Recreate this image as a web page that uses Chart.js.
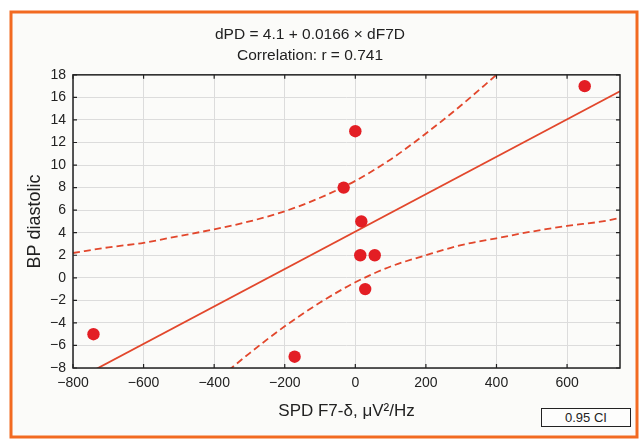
<!DOCTYPE html>
<html>
<head>
<meta charset="utf-8">
<script src="https://cdn.jsdelivr.net/npm/chart.js@4.4.1/dist/chart.umd.min.js"></script>
<style>
  html, body { margin: 0; padding: 0; background: #ffffff; }
  #wrap { position: relative; width: 642px; height: 444px; }
  #c { position: absolute; left: 0; top: 0; }
  #ci { position: absolute; left: 541px; top: 408px; width: 88px; height: 17px;
        border: 1.5px solid #222; background: #fdfdfc;
        font: 13px "Liberation Sans", Arial, sans-serif;
        color: #222; text-align: center; line-height: 17px; }
</style>
</head>
<body>
<div id="wrap">
  <canvas id="c" width="642" height="444"></canvas>
  <div id="ci">0.95 CI</div>
</div>
<script>
// ---- data ----
const pointsX = [-742, -172, 0, -33, 17, 14, 55, 28, 650];
const pointsY = [-5, -7, 13, 8, 5, 2, 2, -1, 17];

const fitX = [-800, 750];
const fitY = [-9.18, 16.55];

const upperX = [-800, -700, -600, -500, -400, -300, -200, -100, 0, 100, 200, 300, 400, 500];
const upperY = [2.2, 2.7, 3.1, 3.7, 4.3, 5.0, 5.9, 7.1, 8.6, 10.5, 12.8, 15.3, 18.0, 20.7];

const lowerX = [-500, -400, -300, -200, -100, 0, 100, 200, 300, 400, 500, 600, 700, 750];
const lowerY = [-12.1, -9.3, -6.7, -4.3, -2.2, -0.4, 1.0, 2.0, 2.9, 3.5, 4.1, 4.6, 5.0, 5.3];

const xTicks = [-800, -600, -400, -200, 0, 200, 400, 600];
const yTicks = [-8, -6, -4, -2, 0, 2, 4, 6, 8, 10, 12, 14, 16, 18];

const titleLines = ['dPD = 4.1 + 0.0166 \u00d7 dF7D', 'Correlation: r = 0.741'];
const xTitle = 'SPD F7-\u03b4, \u03bcV\u00b2/Hz';
const yTitle = 'BP diastolic';

const zip = (xs, ys) => xs.map((x, i) => ({ x: x, y: ys[i] }));
const fmt = v => String(v).replace('-', '\u2212');

const FONT = '"Liberation Sans", Arial, sans-serif';
const RED = '#e31e24';
const LINE = '#e2472c';

const framePlugin = {
  id: 'frame',
  beforeDraw(chart) {
    const ctx = chart.ctx;
    ctx.save();
    ctx.fillStyle = '#ffffff';
    ctx.fillRect(0, 0, chart.width, chart.height);
    ctx.fillStyle = '#fbfbf9';
    ctx.fillRect(11, 12, 626, 425);
    ctx.strokeStyle = '#f26a21';
    ctx.lineWidth = 3;
    ctx.strokeRect(11, 12, 626, 425);
    ctx.restore();
  },
  afterDraw(chart) {
    const ctx = chart.ctx;
    const a = chart.chartArea;
    const xs = chart.scales.x, ys = chart.scales.y;
    ctx.save();
    ctx.strokeStyle = '#222';
    ctx.lineWidth = 1.5;
    ctx.strokeRect(a.left, a.top, a.right - a.left, a.bottom - a.top);
    ctx.lineWidth = 1.2;
    ctx.beginPath();
    xTicks.forEach(v => {
      const px = xs.getPixelForValue(v);
      ctx.moveTo(px, a.top); ctx.lineTo(px, a.top + 4);
      ctx.moveTo(px, a.bottom); ctx.lineTo(px, a.bottom - 4);
    });
    yTicks.forEach(v => {
      const py = ys.getPixelForValue(v);
      ctx.moveTo(a.left, py); ctx.lineTo(a.left + 4, py);
      ctx.moveTo(a.right, py); ctx.lineTo(a.right - 4, py);
    });
    ctx.stroke();
    ctx.restore();
  }
};

new Chart(document.getElementById('c'), {
  type: 'scatter',
  data: {
    datasets: [
      { label: 'fit', data: zip(fitX, fitY), showLine: true, borderColor: LINE, borderWidth: 1.8,
        pointRadius: 0, order: 2 },
      { label: 'upper', data: zip(upperX, upperY), showLine: true, borderColor: LINE, borderWidth: 1.8,
        borderDash: [7, 4], pointRadius: 0, cubicInterpolationMode: 'monotone', order: 3 },
      { label: 'lower', data: zip(lowerX, lowerY), showLine: true, borderColor: LINE, borderWidth: 1.8,
        borderDash: [7, 4], pointRadius: 0, cubicInterpolationMode: 'monotone', order: 3 },
      { label: 'data', data: zip(pointsX, pointsY), backgroundColor: RED, borderColor: RED,
        pointRadius: 6.2, borderWidth: 0, order: 1 }
    ]
  },
  options: {
    responsive: false,
    animation: false,
    events: [],
    layout: { padding: { left: 0, right: 22, top: 0, bottom: 0 } },
    plugins: {
      legend: { display: false },
      tooltip: { enabled: false },
      title: {
        display: true,
        text: titleLines,
        color: '#222',
        font: { family: FONT, size: 15.5, weight: 'normal', lineHeight: 1.35 },
        padding: { top: 24, bottom: 9 }
      }
    },
    scales: {
      x: {
        type: 'linear', min: -800, max: 750,
        afterBuildTicks: s => { s.ticks = xTicks.map(v => ({ value: v })); },
        afterFit: s => { s.height = 76; },
        ticks: { color: '#222', font: { family: FONT, size: 14 }, padding: 7,
                 maxRotation: 0, autoSkip: false, callback: v => fmt(v) },
        grid: { color: '#dcdcdc', lineWidth: 1, drawTicks: false },
        border: { display: false },
        title: { display: true, text: xTitle, color: '#222',
                 font: { family: FONT, size: 17 }, padding: { top: 0, bottom: 22 } }
      },
      y: {
        type: 'linear', min: -8, max: 18,
        afterBuildTicks: s => { s.ticks = yTicks.map(v => ({ value: v })); },
        afterFit: s => { s.width = 73; },
        ticks: { color: '#222', font: { family: FONT, size: 14 }, padding: 7,
                 autoSkip: false, callback: v => fmt(v) },
        grid: { color: '#dcdcdc', lineWidth: 1, drawTicks: false },
        border: { display: false },
        title: { display: true, text: yTitle, color: '#222',
                 font: { family: FONT, size: 18 }, padding: { top: 24, bottom: 0 } }
      }
    }
  },
  plugins: [framePlugin]
});
</script>
</body>
</html>
